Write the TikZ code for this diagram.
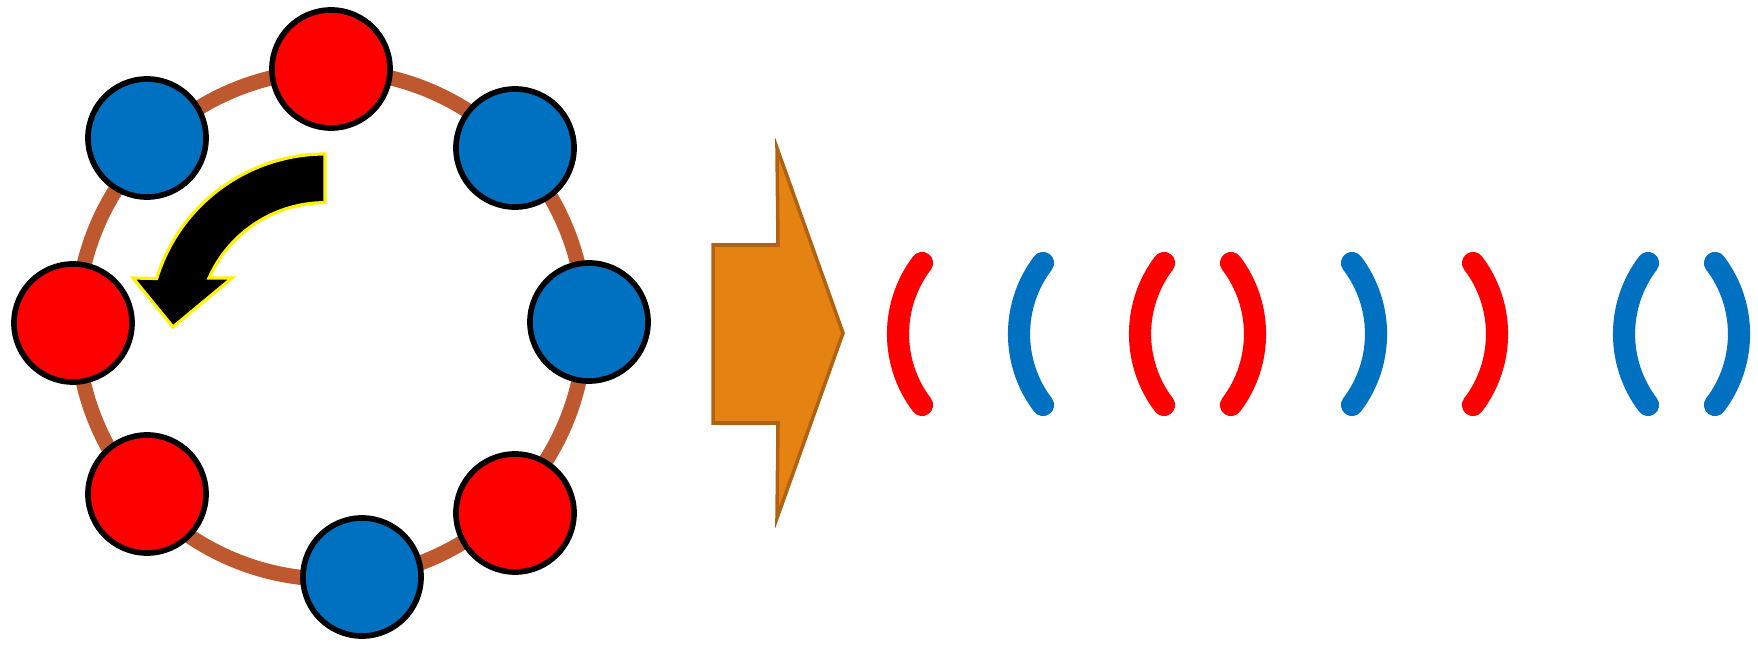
\documentclass[tikz,border=0pt]{standalone}
\usepackage{tikz}
\usetikzlibrary{positioning}
\definecolor{bred}{RGB}{255, 0, 0}
\definecolor{bblue}{RGB}{0, 112, 192}
\definecolor{ringbrown}{RGB}{190, 88, 46}
\definecolor{shiftorange}{RGB}{228, 131, 18}
\definecolor{shiftedge}{RGB}{176, 98, 16}

\begin{document}
\begin{tikzpicture}[
		x=0.01cm, y=-0.01cm,
		% ring and beads
		ring/.style={draw=ringbrown, line width=4.3pt},
		bead/.style={
			draw=black, circle,
			minimum size=1.18cm, inner sep=0pt,
			line width=1.6pt
		},
		turn/.style={fill=black, draw=yellow, line width=0.9pt, line join=miter},
		blockarrow/.style={fill=shiftorange, draw=shiftedge, line width=1pt},
		paren/.style={line width=6.3pt, line cap=round}
	]

	\useasboundingbox (0,0) rectangle (1758,649);

	% Ring
	\coordinate (centre) at (331,325);
	\draw[ring] (centre) circle[radius=2.54cm];

	% Beads (clockwise from the top)
	\node[bead, fill=bred]  (top)   at (331,69)  {};
	\node[bead, fill=bblue] (topr)  at (515,148) {};
	\node[bead, fill=bblue] (right) at (589,322) {};
	\node[bead, fill=bred]  (botr)  at (515,513) {};
	\node[bead, fill=bblue] (bot)   at (362,577) {};
	\node[bead, fill=bred]  (botl)  at (147,494) {};
	\node[bead, fill=bred]  (left)  at (73,323)  {};
	\node[bead, fill=bblue] (topl)  at (147,138) {};

	% Rotation arrow inside the ring
	\draw[turn]
		(325,154) arc[start angle=-90, end angle=-163, radius=176]
		-- (133,278) -- (173,327) -- (232,278) -- (209,278)
		arc[start angle=-156, end angle=-90, radius=127]
		-- cycle;

	% Block arrow
	\draw[blockarrow]
		(713,245) -- (778,245) -- (777,148) -- (843,333)
		-- (777,518) -- (778,423) -- (713,423) -- cycle;

	% Brackets: end x / side / colour
	\foreach \ex/\s/\col in {922/-1/bred, 1043/-1/bblue, 1164/-1/bred,
			1231/1/bred, 1352/1/bblue, 1473/1/bred,
			1648/-1/bblue, 1715/1/bblue}
	{
		\draw[paren, \col] (\ex,263)
			.. controls (\ex+\s*32,305) and (\ex+\s*32,363) .. (\ex,405);
	}

\end{tikzpicture}
\end{document}
